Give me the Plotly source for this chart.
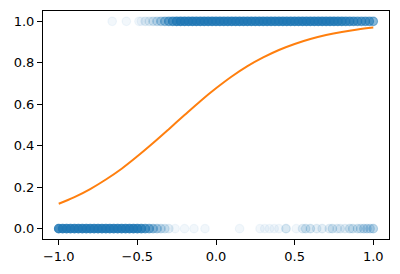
import plotly.graph_objects as go

# Observations at y = 1: x positions and how many observations overlap there
ones_x = [-0.66, -0.57, -0.49, -0.475, -0.45, -0.425, -0.40, -0.375, -0.35, -0.325, -0.30, -0.275,
          -0.25, -0.225, -0.20, -0.175, -0.15, -0.125, -0.10, -0.075, -0.05, -0.025, 0.0,
          0.025, 0.05, 0.075, 0.10, 0.125, 0.15, 0.175, 0.20, 0.225, 0.25, 0.275, 0.30,
          0.325, 0.35, 0.375, 0.40, 0.425, 0.45, 0.475, 0.50, 0.525, 0.55, 0.575, 0.60,
          0.625, 0.65, 0.675, 0.70, 0.725, 0.75, 0.775, 0.80, 0.825, 0.85, 0.875, 0.90,
          0.925, 0.95, 0.975, 1.0]
ones_n = [1, 1, 1, 1, 2, 2, 3, 4, 6, 9, 13, 18,
          26, 30, 30, 30, 30, 30, 30, 30, 30, 30, 30,
          30, 30, 30, 30, 30, 30, 30, 30, 30, 30, 30, 30,
          30, 30, 30, 30, 30, 30, 30, 30, 30, 30, 30, 30,
          30, 30, 30, 30, 30, 30, 28, 25, 22, 20, 18, 16,
          15, 15, 14, 12]

# Observations at y = 0
zeros_x = [-1.0, -0.975, -0.95, -0.925, -0.90, -0.875, -0.85, -0.825, -0.80, -0.775, -0.75,
           -0.725, -0.70, -0.675, -0.65, -0.625, -0.60, -0.575, -0.55, -0.525, -0.50,
           -0.475, -0.45, -0.425, -0.40, -0.375, -0.35, -0.325, -0.30,
           -0.26, -0.20, -0.14, -0.07, 0.15, 0.28, 0.31, 0.34, 0.37, 0.40, 0.445, 0.51,
           0.55, 0.57, 0.60, 0.64, 0.675, 0.72, 0.74, 0.77, 0.79, 0.82, 0.85, 0.87, 0.90,
           0.92, 0.94, 0.96, 0.98, 1.0]
zeros_n = [30, 30, 30, 30, 30, 30, 30, 30, 30, 30, 30,
           30, 30, 30, 30, 30, 30, 30, 30, 30, 28,
           22, 16, 12, 8, 6, 4, 3, 2,
           1, 1, 1, 1, 1, 1, 1, 1, 1, 1, 3, 1,
           2, 3, 3, 2, 2, 2, 3, 2, 2, 2, 3, 3, 3,
           3, 4, 4, 4, 5]

# Fitted logistic curve
curve_x = [-1.0, -0.9, -0.8, -0.7, -0.6, -0.5, -0.4, -0.3, -0.2, -0.1, 0.0,
           0.1, 0.2, 0.3, 0.4, 0.5, 0.6, 0.7, 0.8, 0.9, 1.0]
curve_y = [0.120, 0.152, 0.191, 0.237, 0.289, 0.349, 0.413, 0.480, 0.548, 0.615, 0.677,
           0.734, 0.784, 0.826, 0.862, 0.891, 0.915, 0.934, 0.949, 0.961, 0.970]

x_ticks = [-1.0, -0.5, 0.0, 0.5, 1.0]
x_ticktext = ["\u22121.0", "\u22120.5", "0.0", "0.5", "1.0"]
y_ticks = [0.0, 0.2, 0.4, 0.6, 0.8, 1.0]
y_ticktext = ["0.0", "0.2", "0.4", "0.6", "0.8", "1.0"]

ALPHA = 0.06


def rgba(n, a=ALPHA):
    al = 1 - (1 - a) ** n
    return f"rgba(31,119,180,{al:.3f})"


fig = go.Figure()
for xs, ns, yv in [(ones_x, ones_n, 1.0), (zeros_x, zeros_n, 0.0)]:
    cols = [rgba(n) for n in ns]
    fig.add_trace(go.Scatter(
        x=xs, y=[yv] * len(xs), mode="markers",
        marker=dict(size=8.5, color=cols, line=dict(width=1.2, color=cols)),
        showlegend=False, hoverinfo="skip"))

fig.add_trace(go.Scatter(x=curve_x, y=curve_y, mode="lines",
                         line=dict(color="#ff7f0e", width=2, shape="spline"),
                         showlegend=False))

axis_common = dict(showline=True, mirror=True, linecolor="black", linewidth=1,
                   ticks="outside", ticklen=5, tickwidth=1, tickcolor="black",
                   showgrid=False, zeroline=False,
                   tickfont=dict(family="DejaVu Sans", size=13, color="black"))
fig.update_xaxes(range=[-1.1, 1.1], tickvals=x_ticks, ticktext=x_ticktext, **axis_common)
fig.update_yaxes(range=[-0.05, 1.05], tickvals=y_ticks, ticktext=y_ticktext, **axis_common)

fig.update_layout(width=400, height=274, margin=dict(l=43, r=10, t=10, b=34),
                  plot_bgcolor="white", paper_bgcolor="white")

fig.write_html("out.html")
